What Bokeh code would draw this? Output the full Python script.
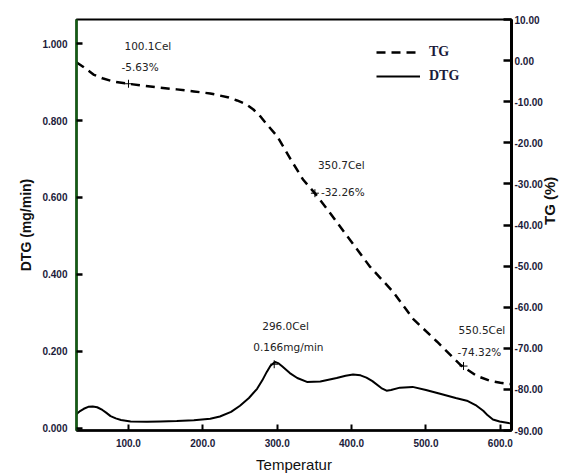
import math
from bokeh.plotting import figure
from bokeh.models import (Range1d, LinearAxis, FixedTicker, NumeralTickFormatter,
                          Legend, LegendItem)
from bokeh.core.properties import value
from bokeh.embed import file_html
from bokeh.resources import INLINE

# ---- data ----
temperature_tg = [30, 40, 53, 65, 80, 98, 120, 143, 165, 188, 210, 223, 235, 246, 258, 268,
                  277, 286, 300, 318, 335, 350.7, 370, 394, 425, 456, 483, 515, 546, 568,
                  586, 600, 613]
tg_percent = [-0.4, -1.6, -3.4, -4.3, -5.1, -5.6, -6.1, -6.6, -7.0, -7.5, -8.0, -8.5, -9.0,
              -9.7, -10.6, -11.9, -13.5, -15.5, -18.4, -24.0, -29.0, -32.3, -36.8, -42.7,
              -50.2, -56.3, -62.9, -68.4, -74.0, -76.7, -77.9, -78.4, -78.7]

temperature_dtg = [30, 35, 40, 46, 52, 58, 65, 70, 76, 83, 90, 103, 125, 143, 165, 188, 210,
                   223, 238, 250, 262, 273, 280, 286, 291, 297, 302, 307, 317, 327, 340, 358,
                   380, 392, 402, 412, 420, 428, 440, 447, 453, 465, 482, 500, 519, 540, 555,
                   568, 577, 583, 590, 599, 613]
dtg_mg_min = [0.036, 0.044, 0.050, 0.055, 0.056, 0.054, 0.047, 0.040, 0.031, 0.025, 0.021,
              0.017, 0.016, 0.017, 0.018, 0.020, 0.024, 0.030, 0.042, 0.058, 0.078, 0.102,
              0.124, 0.146, 0.162, 0.172, 0.168, 0.160, 0.143, 0.130, 0.120, 0.121, 0.130,
              0.136, 0.139, 0.137, 0.131, 0.122, 0.104, 0.097, 0.099, 0.105, 0.107, 0.099,
              0.089, 0.078, 0.071, 0.058, 0.045, 0.033, 0.022, 0.017, 0.012]

tg_event_temp = [100.1, 350.7, 550.5]
tg_event_loss = [-5.63, -32.26, -74.32]
dtg_peak_temp = [296.0]
dtg_peak_rate = [0.166]

x_ticks = [100, 200, 300, 400, 500, 600]
dtg_ticks = [0.0, 0.2, 0.4, 0.6, 0.8, 1.0]
tg_ticks = [10, 0, -10, -20, -30, -40, -50, -60, -70, -80, -90]

# ---- styling ----
TICK_COLOR = "#1b1b3a"
ANN_FONT = value("DejaVu Sans")

p = figure(width=569, height=475, output_backend="svg", toolbar_location=None,
           title=None,
           x_range=Range1d(30.2, 615), y_range=Range1d(-0.0065, 1.063),
           min_border_left=76, min_border_right=57, min_border_top=19, min_border_bottom=43)
p.extra_y_ranges = {"tg": Range1d(-90, 10)}
p.xgrid.visible = False
p.ygrid.visible = False
p.outline_line_color = "black"
p.outline_line_width = 2
p.background_fill_color = "white"
p.border_fill_color = "white"

# bottom axis
xa = p.xaxis[0]
xa.ticker = FixedTicker(ticks=x_ticks)
xa.formatter = NumeralTickFormatter(format="0.0")
xa.major_tick_in = 6
xa.major_tick_out = 0
xa.minor_tick_line_color = None
xa.major_tick_line_width = 2
xa.axis_line_width = 2.5
xa.axis_line_color = "black"
xa.major_label_standoff = 8
xa.major_label_text_font = "Liberation Sans"
xa.major_label_text_font_style = "bold"
xa.major_label_text_font_size = "10px"
xa.major_label_text_color = TICK_COLOR
xa.axis_label = "Temperatur"
xa.axis_label_standoff = 6
xa.axis_label_text_font = "Liberation Sans"
xa.axis_label_text_font_style = "normal"
xa.axis_label_text_font_size = "15px"
xa.axis_label_text_color = "#111111"

# left axis
ya = p.yaxis[0]
ya.ticker = FixedTicker(ticks=dtg_ticks)
ya.formatter = NumeralTickFormatter(format="0.000")
ya.major_tick_in = 6
ya.major_tick_out = 0
ya.minor_tick_line_color = None
ya.major_tick_line_width = 2.5
ya.axis_line_width = 2.5
ya.axis_line_color = "#145c14"
ya.major_label_standoff = 9
ya.major_label_text_font = "Liberation Sans"
ya.major_label_text_font_style = "bold"
ya.major_label_text_font_size = "10px"
ya.major_label_text_color = TICK_COLOR
ya.axis_label = "DTG (mg/min)"
ya.axis_label_standoff = 5
ya.axis_label_text_font = "Liberation Sans"
ya.axis_label_text_font_style = "bold"
ya.axis_label_text_font_size = "14px"
ya.axis_label_text_color = "#111111"

# right axis
ra = LinearAxis(y_range_name="tg", ticker=FixedTicker(ticks=tg_ticks),
                formatter=NumeralTickFormatter(format="0.00"))
ra.major_tick_in = 8
ra.major_tick_out = 0
ra.minor_tick_line_color = None
ra.major_tick_line_width = 2.5
ra.axis_line_width = 3
ra.axis_line_color = "black"
ra.major_label_standoff = 3
ra.major_label_text_font = "Liberation Sans"
ra.major_label_text_font_style = "bold"
ra.major_label_text_font_size = "10px"
ra.major_label_text_color = TICK_COLOR
ra.axis_label = "TG (%)"
ra.axis_label_orientation = math.pi / 2
ra.axis_label_standoff = 4
ra.axis_label_text_font = "Liberation Sans"
ra.axis_label_text_font_style = "bold"
ra.axis_label_text_font_size = "15px"
ra.axis_label_text_color = "#111111"
p.add_layout(ra, "right")

# curves
tg_r = p.line(temperature_tg, tg_percent, y_range_name="tg", line_color="black",
              line_width=2.5, line_dash="9 6")
dtg_r = p.line(temperature_dtg, dtg_mg_min, line_color="black", line_width=2)

# event markers
p.scatter(tg_event_temp, tg_event_loss, y_range_name="tg", marker="cross", size=8,
          line_color="black", line_width=1)
p.scatter(dtg_peak_temp, dtg_peak_rate, marker="cross", size=8, line_color="black", line_width=1)

# annotation texts
tg_temp_text = [f"{t:.1f}Cel" for t in tg_event_temp]
tg_loss_text = [f"{v:.2f}%" for v in tg_event_loss]
p.text(tg_event_temp, tg_event_loss, text=tg_temp_text, y_range_name="tg",
       x_offset=[-4, 3, -5], y_offset=[-38, -28, -36],
       text_align="left", text_baseline="middle", text_font=ANN_FONT,
       text_font_size="10.5px", text_color="#222222")
p.text(tg_event_temp, tg_event_loss, text=tg_loss_text, y_range_name="tg",
       x_offset=[-7, 6, -6], y_offset=[-17, -1, -14],
       text_align="left", text_baseline="middle", text_font=ANN_FONT,
       text_font_size="10.5px", text_color="#222222")
p.text(dtg_peak_temp, dtg_peak_rate, text=[f"{t:.1f}Cel" for t in dtg_peak_temp],
       x_offset=[-12], y_offset=[-38],
       text_align="left", text_baseline="middle", text_font=ANN_FONT,
       text_font_size="10.5px", text_color="#222222")
p.text(dtg_peak_temp, dtg_peak_rate, text=[f"{v:.3f}mg/min" for v in dtg_peak_rate],
       x_offset=[-21], y_offset=[-17],
       text_align="left", text_baseline="middle", text_font=ANN_FONT,
       text_font_size="10.5px", text_color="#222222")

# legend
legend = Legend(items=[LegendItem(label="TG", renderers=[tg_r]),
                       LegendItem(label="DTG", renderers=[dtg_r])],
                location=(300, 344), orientation="vertical",
                glyph_width=44, glyph_height=20, spacing=4, label_standoff=9,
                padding=0, margin=0, border_line_alpha=0, background_fill_alpha=0,
                label_text_font="Liberation Serif", label_text_font_style="bold",
                label_text_font_size="14px", label_text_color="#1a1a3a")
p.add_layout(legend)

open("out.html", "w").write(file_html(p, INLINE))
